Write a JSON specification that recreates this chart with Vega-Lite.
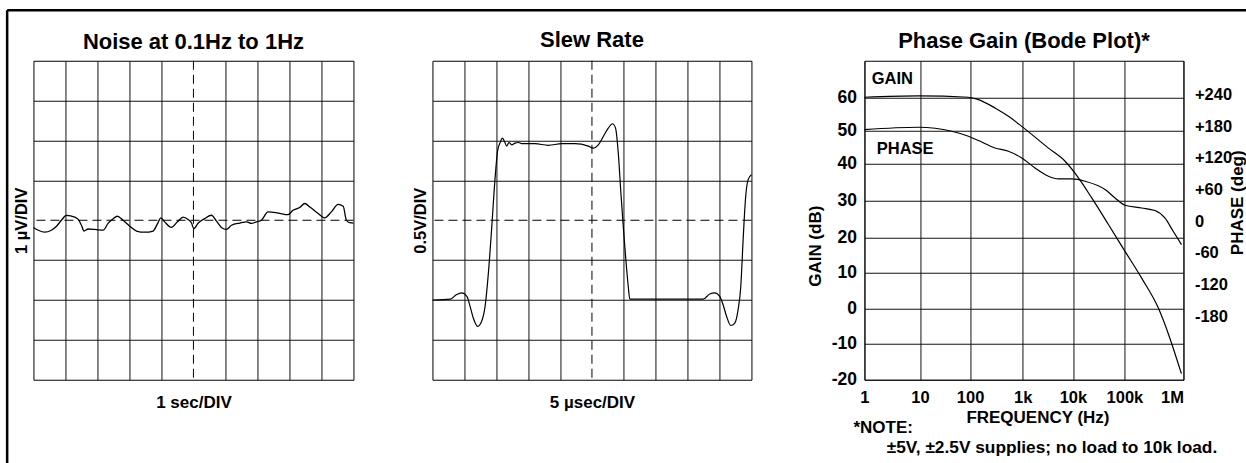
{
  "$schema": "https://vega.github.io/schema/vega-lite/v6.json",
  "padding": {"left": 4.45, "top": 7.75, "right": 0, "bottom": 0},
  "background": "white",
  "bounds": "flush",
  "spacing": 0,
  "config": {
    "font": "Liberation Sans",
    "view": {"stroke": "#000", "strokeWidth": 1},
    "title": {"fontSize": 22, "fontWeight": "bold", "color": "#000", "anchor": "middle", "frame": "group", "baseline": "alphabetic", "offset": 7.8},
    "axis": {"domain": false, "ticks": false, "grid": true, "gridColor": "#111", "gridOpacity": 1, "gridWidth": 1, "labelFontWeight": "bold", "labelColor": "#000", "labelFontSize": 16.5, "titleFontWeight": "bold", "titleColor": "#000", "titleFontSize": 17},
    "text": {"font": "Liberation Sans", "fontWeight": "bold", "color": "#000"}
  },
  "hconcat": [
    {
      "width": 320, "height": 319,
      "title": {"text": "Noise at 0.1Hz to 1Hz", "offset": -45},
      "layer": [
        {
          "data": {"values": [
            {"t":0,"v":-0.18},{"t":0.15,"v":-0.25},{"t":0.35,"v":-0.30},{"t":0.56,"v":-0.25},{"t":0.72,"v":-0.15},{"t":0.875,"v":0.0},{"t":1.03,"v":0.12},{"t":1.29,"v":0.08},{"t":1.40,"v":0.02},{"t":1.5,"v":-0.125},{"t":1.58,"v":-0.27},{"t":1.71,"v":-0.22},{"t":1.92,"v":-0.23},{"t":2.18,"v":-0.25},{"t":2.33,"v":-0.08},{"t":2.49,"v":0.04},{"t":2.62,"v":0.10},{"t":2.80,"v":0.0},{"t":3.01,"v":-0.15},{"t":3.22,"v":-0.27},{"t":3.48,"v":-0.30},{"t":3.74,"v":-0.27},{"t":3.88,"v":-0.08},{"t":3.98,"v":0.06},{"t":4.10,"v":-0.04},{"t":4.31,"v":-0.18},{"t":4.5,"v":-0.04},{"t":4.68,"v":0.08},{"t":4.83,"v":0.02},{"t":4.94,"v":-0.07},{"t":5.01,"v":-0.21},{"t":5.15,"v":-0.07},{"t":5.35,"v":0.04},{"t":5.56,"v":0.125},{"t":5.72,"v":-0.02},{"t":5.875,"v":-0.18},{"t":6.03,"v":-0.23},{"t":6.19,"v":-0.125},{"t":6.45,"v":-0.07},{"t":6.66,"v":-0.04},{"t":6.81,"v":-0.08},{"t":6.97,"v":-0.04},{"t":7.125,"v":0.0},{"t":7.33,"v":0.21},{"t":7.65,"v":0.18},{"t":7.96,"v":0.14},{"t":8.11,"v":0.25},{"t":8.32,"v":0.32},{"t":8.48,"v":0.42},{"t":8.64,"v":0.33},{"t":8.9,"v":0.17},{"t":9.1,"v":0.06},{"t":9.31,"v":0.21},{"t":9.52,"v":0.40},{"t":9.68,"v":0.35},{"t":9.78,"v":0.0},{"t":9.88,"v":-0.06},{"t":10,"v":-0.07}
          ]},
          "mark": {"type": "line", "color": "#000", "strokeWidth": 1.3, "interpolate": "monotone"},
          "encoding": {
            "x": {"field": "t", "type": "quantitative", "scale": {"domain": [0, 10], "nice": false, "zero": false},
                  "axis": {"title": "1 sec/DIV", "values": [1,2,3,4,6,7,8,9], "labels": false, "titleBaseline": "alphabetic", "titlePadding": 28}},
            "y": {"field": "v", "type": "quantitative", "scale": {"domain": [-4, 4], "nice": false, "zero": false},
                  "axis": {"title": "1 µV/DIV", "values": [-3,-2,-1,1,2,3], "labels": false, "titleFontSize": 16.5, "titleBaseline": "alphabetic", "titlePadding": 7}}
          }
        },
        {"data": {"values": [{}]}, "mark": {"type": "rule", "color": "#000", "strokeWidth": 1, "strokeDash": [9, 5]}, "encoding": {"x": {"datum": 5}}},
        {"data": {"values": [{}]}, "mark": {"type": "rule", "color": "#000", "strokeWidth": 1, "strokeDash": [9, 5]}, "encoding": {"y": {"datum": 0}}},
        {"data": {"values": [{}]}, "mark": {"type": "rule", "color": "#000", "strokeWidth": 2.5, "clip": false}, "encoding": {"x": {"datum": -0.8219}, "x2": {"datum": 37.898}, "y": {"datum": 5.2665}}},
        {"data": {"values": [{}]}, "mark": {"type": "rule", "color": "#000", "strokeWidth": 2.5, "clip": false}, "encoding": {"x": {"datum": -0.8219}, "y": {"datum": 5.2665}, "y2": {"datum": -6.0878}}}
      ]
    },
    {"width": 79, "height": 319, "view": {"stroke": null}, "data": {"values": [{}]}, "mark": {"type": "point", "opacity": 0}},
    {
      "width": 319, "height": 319,
      "title": "Slew Rate",
      "layer": [
        {
          "data": {"values": [
            {"t":0,"v":-1.0},{"t":2.8,"v":-0.99},{"t":3.8,"v":-0.93},{"t":4.6,"v":-0.91},{"t":5.4,"v":-0.955},{"t":5.9,"v":-1.08},{"t":6.4,"v":-1.225},{"t":7.1,"v":-1.33},{"t":7.7,"v":-1.27},{"t":8.25,"v":-1.08},{"t":8.77,"v":-0.66},{"t":9.3,"v":-0.08},{"t":9.8,"v":0.51},{"t":10.23,"v":0.88},{"t":10.6,"v":0.97},{"t":10.96,"v":1.03},{"t":11.28,"v":0.99},{"t":11.64,"v":0.93},{"t":12.0,"v":0.975},{"t":12.42,"v":0.946},{"t":12.94,"v":0.967},{"t":13.47,"v":0.975},{"t":14.0,"v":0.96},{"t":16.07,"v":0.96},{"t":18.17,"v":0.94},{"t":20.25,"v":0.96},{"t":22.33,"v":0.96},{"t":24.43,"v":0.93},{"t":25.21,"v":0.905},{"t":26.0,"v":0.946},{"t":26.78,"v":1.05},{"t":27.56,"v":1.155},{"t":28.23,"v":1.21},{"t":28.7,"v":1.155},{"t":29.13,"v":0.84},{"t":29.54,"v":0.34},{"t":29.91,"v":-0.08},{"t":30.27,"v":-0.45},{"t":30.69,"v":-0.83},{"t":30.94,"v":-0.99},{"t":31.2,"v":-0.99},{"t":42.4,"v":-0.99},{"t":43.47,"v":-0.925},{"t":44.25,"v":-0.91},{"t":45.03,"v":-0.955},{"t":45.56,"v":-1.06},{"t":46.08,"v":-1.2},{"t":46.76,"v":-1.32},{"t":47.38,"v":-1.29},{"t":47.91,"v":-1.12},{"t":48.33,"v":-0.83},{"t":48.7,"v":-0.24},{"t":49.06,"v":0.26},{"t":49.48,"v":0.51},{"t":50,"v":0.57}
          ]},
          "mark": {"type": "line", "color": "#000", "strokeWidth": 1.2, "interpolate": "monotone"},
          "encoding": {
            "x": {"field": "t", "type": "quantitative", "scale": {"domain": [0, 50], "nice": false, "zero": false},
                  "axis": {"title": "5 µsec/DIV", "values": [5,10,15,20,30,35,40,45], "labels": false, "titleBaseline": "alphabetic", "titlePadding": 28}},
            "y": {"field": "v", "type": "quantitative", "scale": {"domain": [-2, 2], "nice": false, "zero": false},
                  "axis": {"title": "0.5V/DIV", "values": [-1.5,-1,-0.5,0.5,1,1.5], "labels": false, "titleFontSize": 16.5, "titleBaseline": "alphabetic", "titlePadding": 7}}
          }
        },
        {"data": {"values": [{}]}, "mark": {"type": "rule", "color": "#000", "strokeWidth": 1, "strokeDash": [9, 5]}, "encoding": {"x": {"datum": 25}}},
        {"data": {"values": [{}]}, "mark": {"type": "rule", "color": "#000", "strokeWidth": 1, "strokeDash": [9, 5]}, "encoding": {"y": {"datum": 0}}}
      ]
    },
    {"width": 113, "height": 319, "view": {"stroke": null}, "data": {"values": [{}]}, "mark": {"type": "point", "opacity": 0}},
    {
      "width": 319, "height": 319,
      "title": "Phase Gain (Bode Plot)*",
      "layer": [
        {
          "layer": [
            {
              "data": {"values": [
                {"f":1,"db":60.2},{"f":9.4,"db":60.6},{"f":92.9,"db":60.2},{"f":144,"db":59.5},{"f":298,"db":56.9},{"f":535,"db":54.3},{"f":957,"db":51.2},{"f":3250,"db":44.7},{"f":6970,"db":40.8},{"f":12790,"db":36.2},{"f":23170,"db":30.7},{"f":48860,"db":23.6},{"f":102300,"db":16.1},{"f":195700,"db":8.4},{"f":374300,"db":0.3},{"f":587000,"db":-8.3},{"f":762000,"db":-14.0},{"f":925000,"db":-18.3}
              ]},
              "mark": {"type": "line", "color": "#000", "strokeWidth": 1.2, "interpolate": "monotone"},
              "encoding": {
                "x": {"field": "f", "type": "quantitative",
                      "scale": {"type": "log", "domain": [1,10,100,1000,10000,100000,1000000], "range": [0,55.6,105.6,158.3,208.5,260,319], "nice": false},
                      "axis": {"title": "FREQUENCY (Hz)", "values": [1,10,100,1000,10000,100000,1000000], "tickCount": 20,
                               "labelExpr": "datum.value >= 1000000 ? '1M' : datum.value >= 1000 ? format(datum.value/1000, 'd') + 'k' : format(datum.value, 'd')",
                               "labelFlush": false,
                               "labelAlign": {"condition": {"test": "datum.value >= 1000000", "value": "right"}, "value": "center"},
                               "labelBaseline": "alphabetic", "labelPadding": 23,
                               "titleBaseline": "alphabetic", "titleX": 173, "titleY": 43}},
                "y": {"field": "db", "type": "quantitative",
                      "scale": {"domain": [-20,-10,0,10,20,30,40,50,60,70.8], "range": [319,283.2,248.2,211.5,177.2,139.7,103.2,69.5,37.2,0], "nice": false, "zero": false},
                      "axis": {"title": "GAIN (dB)", "values": [-20,-10,0,10,20,30,40,50,60], "tickCount": 20, "labelOverlap": false, "labelFontSize": 17.5, "labelPadding": 8,
                               "labelExpr": "'' + datum.value",
                               "titleAngle": 270, "titleBaseline": "alphabetic", "titleX": -44, "titleY": 185}}
              }
            },
            {"data": {"values": [{}]}, "mark": {"type": "text", "text": "GAIN", "fontSize": 16.5, "align": "left", "baseline": "middle"}, "encoding": {"x": {"datum": 1.353}, "y": {"datum": 65.55}}},
            {"data": {"values": [{}]}, "mark": {"type": "text", "text": "PHASE", "fontSize": 16.5, "align": "left", "baseline": "middle"}, "encoding": {"x": {"datum": 1.664}, "y": {"datum": 44.5}}},
            {"data": {"values": [{}]}, "mark": {"type": "text", "text": "*NOTE:", "fontSize": 17, "align": "left", "baseline": "middle"}, "encoding": {"x": {"datum": 0.634}, "y": {"datum": -33.5}}},
            {"data": {"values": [{}]}, "mark": {"type": "text", "text": "±5V, ±2.5V supplies; no load to 10k load.", "fontSize": 17.3, "align": "left", "baseline": "middle"}, "encoding": {"x": {"datum": 2.518}, "y": {"datum": -39.0}}}
          ]
        },
        {
          "data": {"values": [
            {"f":1,"deg":173.7},{"f":9.36,"deg":178},{"f":43.1,"deg":170.5},{"f":92.9,"deg":161},{"f":144,"deg":152.8},{"f":298,"deg":138.8},{"f":535,"deg":132.6},{"f":957,"deg":119.9},{"f":1758,"deg":100.9},{"f":3250,"deg":85.2},{"f":5140,"deg":80.1},{"f":9460,"deg":80.1},{"f":17180,"deg":75.7},{"f":41990,"deg":60},{"f":65610,"deg":44.1},{"f":102300,"deg":30.3},{"f":195700,"deg":25.1},{"f":328200,"deg":20.2},{"f":484300,"deg":6.2},{"f":670000,"deg":-19},{"f":925000,"deg":-44.2}
          ]},
          "mark": {"type": "line", "color": "#000", "strokeWidth": 1.2, "interpolate": "monotone"},
          "encoding": {
            "x": {"field": "f", "type": "quantitative",
                  "scale": {"type": "log", "domain": [1,10,100,1000,10000,100000,1000000], "range": [0,55.6,105.6,158.3,208.5,260,319], "nice": false}},
            "y": {"field": "deg", "type": "quantitative",
                  "scale": {"domain": [-300.3, 304.0], "nice": false, "zero": false},
                  "axis": {"orient": "right", "title": "PHASE (deg)", "grid": false, "values": [-180,-120,-60,0,60,120,180,240], "tickCount": 20, "labelOverlap": false,
                           "labelExpr": "datum.value > 0 ? '+' + datum.value : datum.value === 0 ? '\u2007\u20070' : '' + datum.value",
                           "labelAlign": "left", "labelPadding": 11,
                           "titleAngle": 270, "titleBaseline": "alphabetic", "titleX": 59, "titleY": 141.5}}
          }
        }
      ],
      "resolve": {"scale": {"y": "independent"}, "axis": {"y": "independent"}}
    }
  ]
}
